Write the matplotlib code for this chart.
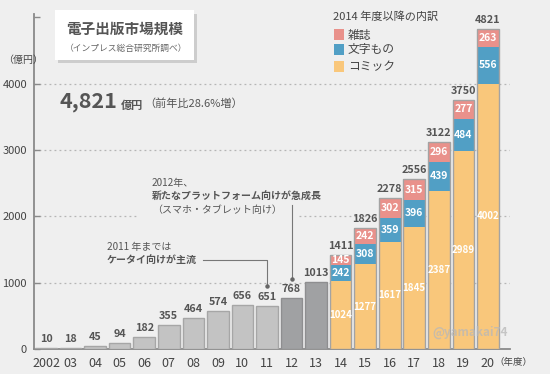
import matplotlib
matplotlib.use("Agg")
import matplotlib.pyplot as plt
from matplotlib.patches import Rectangle
import numpy as np

plt.rcParams['font.family'] = ['Noto Sans CJK JP', 'DejaVu Sans']

years = ['2002', '03', '04', '05', '06', '07', '08', '09', '10', '11', '12', '13',
         '14', '15', '16', '17', '18', '19', '20']
early_totals = [10, 18, 45, 94, 182, 355, 464, 574, 656, 651, 768, 1013]
comic = [1024, 1277, 1617, 1845, 2387, 2989, 4002]
text_books = [242, 308, 359, 396, 439, 484, 556]
magazine = [145, 242, 302, 315, 296, 277, 263]
late_totals = [1411, 1826, 2278, 2556, 3122, 3750, 4821]

BG = '#efefef'
C_LIGHT = '#c3c3c3'
C_DARK = '#a0a1a3'
C_COMIC = '#f9c77b'
C_TEXT = '#519fc5'
C_MAG = '#e9918b'
EDGE = '#a3a3a3'
LBL = '#555555'

W, H = 550, 374
fig = plt.figure(figsize=(5.5, 3.74), dpi=100, facecolor=BG)
ax = fig.add_axes([34 / W, 1 - 349 / H, (510 - 34) / W, (349 - 14) / H])
ax.set_facecolor(BG)

def fx(px):
    return px / W

def fy(py):
    return 1 - py / H

x = np.arange(len(years))
bw = 0.88
n_early = len(early_totals)
xe = x[:n_early]
xl = x[n_early:]

early_colors = [C_LIGHT] * 10 + [C_DARK] * 2
early_edges = ['#a6a6a6'] * 10 + ['#8e8e90'] * 2
ax.bar(xe, early_totals, width=bw, color=early_colors, edgecolor=early_edges,
       linewidth=1.0, zorder=3)
for xi, v in zip(xe, early_totals):
    ax.annotate(str(v), (xi, v), xytext=(0, 3), textcoords='offset points',
                ha='center', va='bottom', fontsize=7.8, fontweight='bold',
                color=LBL, zorder=5)

comic_a = np.array(comic)
text_a = np.array(text_books)
mag_a = np.array(magazine)
ax.bar(xl, comic_a, width=bw, color=C_COMIC, linewidth=0, zorder=3)
ax.bar(xl, text_a, bottom=comic_a, width=bw, color=C_TEXT, linewidth=0, zorder=3)
ax.bar(xl, mag_a, bottom=comic_a + text_a, width=bw, color=C_MAG, linewidth=0, zorder=3)
tops = comic_a + text_a + mag_a
ax.bar(xl, tops, width=bw, fill=False, edgecolor=EDGE, linewidth=1.0, zorder=4)

for i, xi in enumerate(xl):
    ax.text(xi, comic_a[i] / 2, str(comic[i]), ha='center', va='center',
            fontsize=7, fontweight='bold', color='white', zorder=5)
    ax.text(xi, comic_a[i] + text_a[i] / 2, str(text_books[i]), ha='center',
            va='center', fontsize=7.5, fontweight='bold', color='white', zorder=5)
    ax.text(xi, comic_a[i] + text_a[i] + mag_a[i] / 2, str(magazine[i]),
            ha='center', va='center', fontsize=7.5, fontweight='bold',
            color='white', zorder=5)
    ax.annotate(str(late_totals[i]), (xi, tops[i]), xytext=(0, 3),
                textcoords='offset points', ha='center', va='bottom',
                fontsize=7.8, fontweight='bold', color=LBL, zorder=5)

ax.set_xlim(-0.49, 18.9)
ax.set_ylim(0, 5050)
ax.set_yticks([0, 1000, 2000, 3000, 4000, 5000])
ax.set_yticklabels(['0', '1000', '2000', '3000', '4000', ''])
ax.set_xticks(x)
ax.set_xticklabels(years)
ax.tick_params(axis='y', direction='in', length=4, width=1, color='#8a8a8a',
               labelsize=8, labelcolor='#444444', pad=5)
ax.tick_params(axis='x', length=0, labelsize=9, labelcolor='#444444', pad=6)
for s in ['top', 'right']:
    ax.spines[s].set_visible(False)
for s in ['left', 'bottom']:
    ax.spines[s].set_color('#8a8a8a')
    ax.spines[s].set_linewidth(1.3)

ax.set_axisbelow(True)
ax.yaxis.grid(True, linestyle=(0, (1.5, 2.5)), color='#b5b5b5', linewidth=0.9)
ax.yaxis.get_gridlines()[-1].set_visible(False)

# background patch hiding gridline behind the 2012 note
ax.add_artist(Rectangle((fx(137), fy(222)), fx(298) - fx(137), fy(212) - fy(222),
                        transform=fig.transFigure, facecolor=BG, edgecolor='none',
                        zorder=1))

# title box with shadow
fig.patches.append(Rectangle((fx(58), fy(63)), fx(197) - fx(58), fy(14) - fy(63),
                             transform=fig.transFigure, facecolor='#cdcdcd',
                             edgecolor='none', zorder=1))
fig.patches.append(Rectangle((fx(55), fy(60)), fx(194) - fx(55), fy(10) - fy(60),
                             transform=fig.transFigure, facecolor='white',
                             edgecolor='none', zorder=2))
fig.text(fx(66), fy(29), '電子出版市場規模', fontsize=10.5, fontweight='bold',
         color='#555555', va='center', ha='left', zorder=5)
fig.text(fx(65), fy(48), '（インプレス総合研究所調べ）', fontsize=6.3,
         color='#666666', va='center', ha='left', zorder=5)

# big total
fig.text(fx(59), fy(102), '4,821', fontsize=15.5, fontweight='bold',
         color='#555555', va='center', ha='left')
fig.text(fx(121), fy(105), '億円', fontsize=8, fontweight='bold',
         color='#555555', va='center', ha='left')
fig.text(fx(144), fy(104), '（前年比28.6%増）', fontsize=8,
         color='#555555', va='center', ha='left')

# axis unit labels
fig.text(fx(3), fy(60), '（億円）', fontsize=7.2, color='#444444',
         va='center', ha='left')
fig.text(fx(494), fy(362), '（年度）', fontsize=6.8, color='#444444',
         va='center', ha='left')

# legend
fig.text(fx(333), fy(17), '2014 年度以降の内訳', fontsize=8, color='#444444',
         va='center', ha='left')
for yy, col, lab in [(35, C_MAG, '雑誌'), (50, C_TEXT, '文字もの'), (67, C_COMIC, 'コミック')]:
    fig.patches.append(Rectangle((fx(334), fy(yy + 5)), fx(10), fy(0) - fy(11),
                                 transform=fig.transFigure, facecolor=col,
                                 edgecolor='none'))
    fig.text(fx(348), fy(yy), lab, fontsize=8.5, color='#444444',
             va='center', ha='left')

# annotations
def px2dx(px):
    return (px - 46) / 24.56

def py2dy(py):
    return (349 - py) / 66.3 * 1000

fig.text(fx(107), fy(247), '2011 年までは', fontsize=7.2, color='#555555',
         va='center', ha='left')
fig.text(fx(107), fy(260), 'ケータイ向けが主流', fontsize=7.2, fontweight='bold',
         color='#555555', va='center', ha='left')
ax.plot([px2dx(203), 9, 9], [py2dy(260), py2dy(260), 950], color='#777777',
        linewidth=0.8, zorder=4)
ax.plot([9], [950], marker='o', markersize=2.2, color='#666666', zorder=4)

fig.text(fx(152), fy(183), '2012年、', fontsize=7.2, color='#555555',
         va='center', ha='left')
fig.text(fx(152), fy(197), '新たなプラットフォーム向けが急成長', fontsize=7.2,
         fontweight='bold', color='#555555', va='center', ha='left')
fig.text(fx(152), fy(210), '（スマホ・タブレット向け）', fontsize=7.2,
         color='#555555', va='center', ha='left')
ax.plot([10, 10], [py2dy(205), 1056], color='#777777', linewidth=0.8, zorder=4)
ax.plot([10], [1056], marker='o', markersize=2.2, color='#666666', zorder=4)

# watermark
fig.text(fx(432), fy(332), '@yamakai74', fontsize=8.5, fontweight='bold',
         color='#b8b8b8', alpha=0.75, va='center', ha='left', zorder=6)

fig.savefig('out.png', dpi=100, facecolor=BG)
